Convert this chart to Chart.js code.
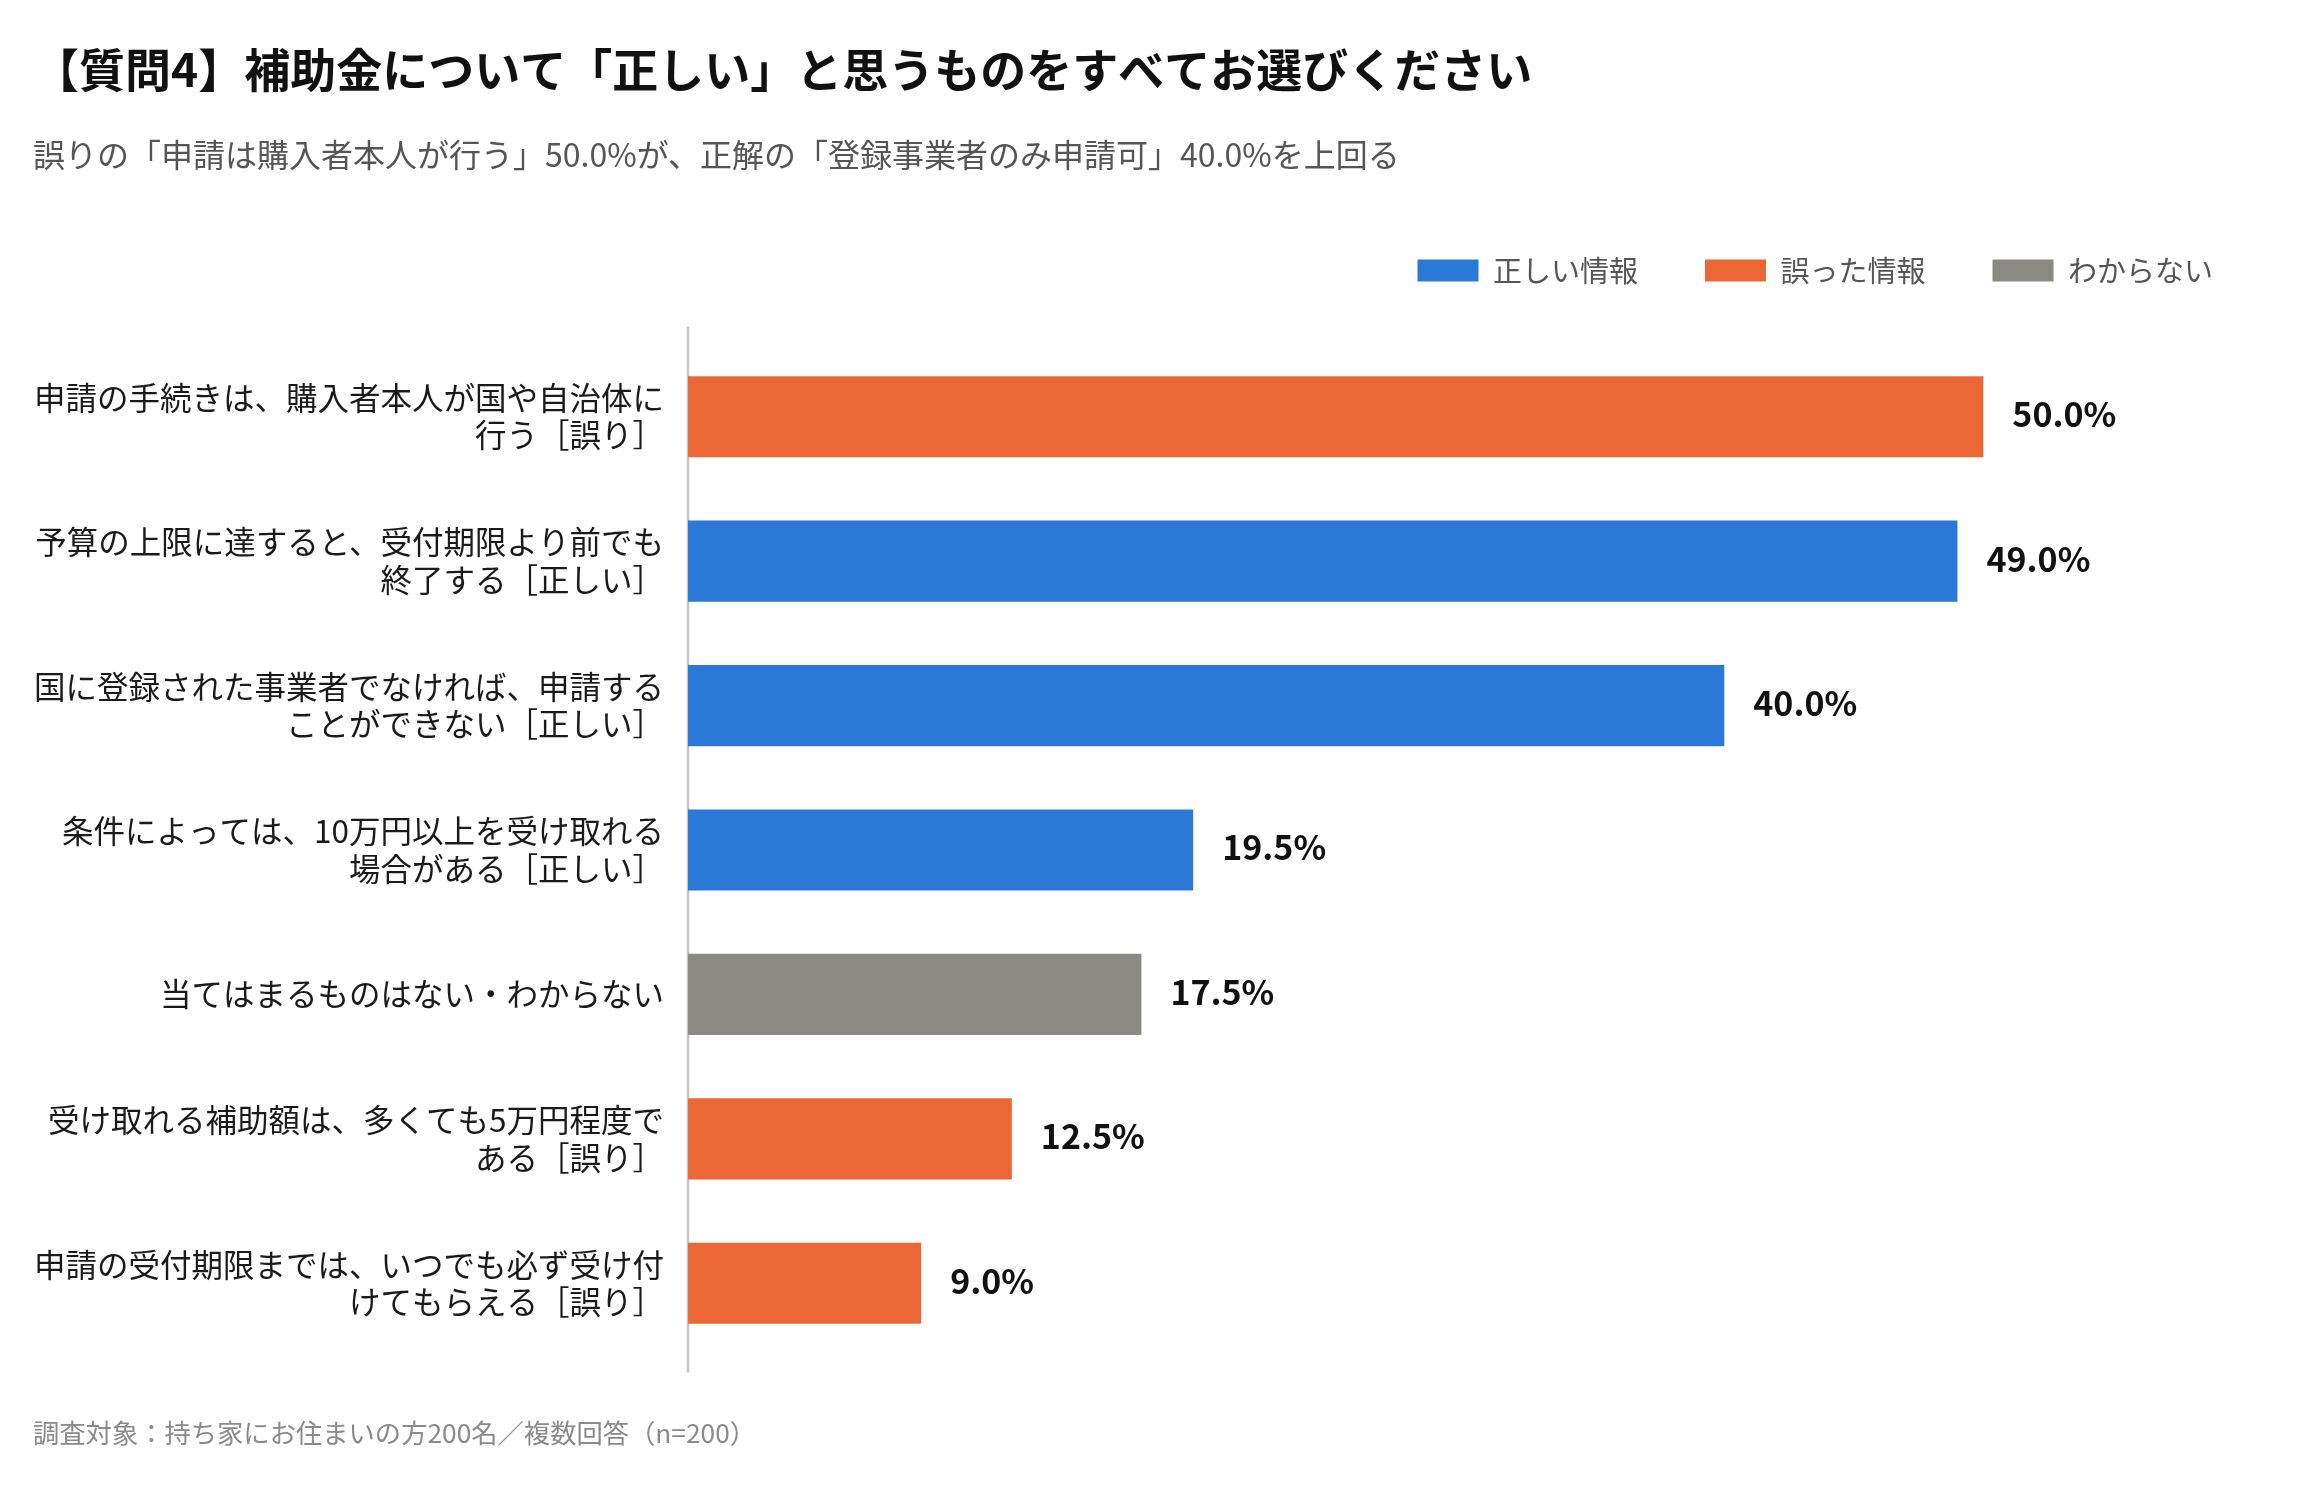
<!DOCTYPE html>
<html lang="ja">
<head>
<meta charset="utf-8">
<script src="https://cdn.jsdelivr.net/npm/chart.js@4.4.1/dist/chart.umd.min.js"></script>
<style>
  html, body { margin: 0; padding: 0; background: #ffffff; }
  #wrap { position: relative; width: 2300px; height: 1494px; }
  #footer { position: absolute; left: 33px; top: 1414px; font-family: 'Noto Sans CJK JP', sans-serif; font-size: 26.3px; line-height: 36px; color: #8a8a8a; white-space: nowrap; }
</style>
</head>
<body>
<div id="wrap">
  <canvas id="c"></canvas>
  <div id="footer">調査対象：持ち家にお住まいの方200名／複数回答（n=200）</div>
</div>
<script>
const titleText = '【質問4】補助金について「正しい」と思うものをすべてお選びください';
const subtitleText = '誤りの「申請は購入者本人が行う」50.0%が、正解の「登録事業者のみ申請可」40.0%を上回る';
const categories = [
  ['申請の手続きは、購入者本人が国や自治体に', '行う［誤り］'],
  ['予算の上限に達すると、受付期限より前でも', '終了する［正しい］'],
  ['国に登録された事業者でなければ、申請する', 'ことができない［正しい］'],
  ['条件によっては、10万円以上を受け取れる', '場合がある［正しい］'],
  '当てはまるものはない・わからない',
  ['受け取れる補助額は、多くても5万円程度で', 'ある［誤り］'],
  ['申請の受付期限までは、いつでも必ず受け付', 'けてもらえる［誤り］']
];
const seriesNames = ['正しい情報', '誤った情報', 'わからない'];
const correctValues = [null, 49.0, 40.0, 19.5, null, null, null];
const wrongValues   = [50.0, null, null, null, null, 12.5, 9.0];
const unknownValues = [null, null, null, null, 17.5, null, null];

const FONT = "'Noto Sans CJK JP', 'Noto Sans', sans-serif";
Chart.defaults.font.family = FONT;

const spacerPlugin = {
  id: 'legendSpacer',
  beforeLayout(chart) {
    const lg = chart.legend;
    if (lg && !lg._spacerPatched) {
      const orig = lg.fit;
      lg.fit = function () { orig.call(this); if (this.options.display) this.height += 49.5; };
      lg._spacerPatched = true;
    }
  }
};

const axisLinePlugin = {
  id: 'axisLine',
  beforeDatasetsDraw(chart) {
    const ctx = chart.ctx, a = chart.chartArea;
    const x = chart.scales.x.getPixelForValue(0);
    ctx.save();
    ctx.strokeStyle = '#c6c6be';
    ctx.lineWidth = 2.5;
    ctx.beginPath();
    ctx.moveTo(x, a.top - 18);
    ctx.lineTo(x, a.bottom + 17);
    ctx.stroke();
    ctx.restore();
  }
};

const valueLabelPlugin = {
  id: 'valueLabels',
  afterDatasetsDraw(chart) {
    const ctx = chart.ctx;
    ctx.save();
    ctx.font = 'bold 34px ' + FONT;
    ctx.fillStyle = '#111111';
    ctx.textAlign = 'left';
    ctx.textBaseline = 'middle';
    chart.data.datasets.forEach((ds, di) => {
      const meta = chart.getDatasetMeta(di);
      meta.data.forEach((bar, i) => {
        const v = ds.data[i];
        if (v === null || v === undefined) return;
        ctx.fillText(v.toFixed(1) + '%', bar.x + 29, bar.y - 2.5);
      });
    });
    ctx.restore();
  }
};

new Chart(document.getElementById('c'), {
  type: 'bar',
  data: {
    labels: categories,
    datasets: [
      { label: seriesNames[0], data: correctValues, backgroundColor: '#2a79d7', borderWidth: 0 },
      { label: seriesNames[1], data: wrongValues, backgroundColor: '#eb6836', borderWidth: 0 },
      { label: seriesNames[2], data: unknownValues, backgroundColor: '#8a8984', borderWidth: 0 }
    ]
  },
  options: {
    indexAxis: 'y',
    responsive: true,
    maintainAspectRatio: false,
    animation: false,
    devicePixelRatio: 1,
    layout: { padding: { top: 20, left: 33, right: 20, bottom: 138.5 } },
    datasets: { bar: { grouped: false, categoryPercentage: 1.0, barPercentage: 0.562 } },
    scales: {
      x: { display: false, min: 0, max: 61.45 },
      y: {
        grid: { display: false, drawTicks: false },
        border: { display: false },
        ticks: { padding: 24, color: '#1a1a1a', font: { size: 31.5, lineHeight: 1.19 } },
        afterFit(scale) { scale.width = 655; }
      }
    },
    plugins: {
      title: {
        display: true, text: titleText, align: 'start', color: '#111111',
        font: { size: 46, weight: 'bold', lineHeight: 1.2 },
        padding: { top: 22, bottom: 0 }
      },
      subtitle: {
        display: true, text: subtitleText, align: 'start', color: '#555555',
        font: { size: 32, weight: 'normal', lineHeight: 1.2 },
        padding: { top: 38.4, bottom: 15 }
      },
      legend: {
        display: true, position: 'top', align: 'end',
        labels: { boxWidth: 61, boxHeight: 22, padding: 67, color: '#555555', font: { size: 29 } }
      },
      tooltip: { enabled: false }
    }
  },
  plugins: [spacerPlugin, axisLinePlugin, valueLabelPlugin]
});
</script>
</body>
</html>
